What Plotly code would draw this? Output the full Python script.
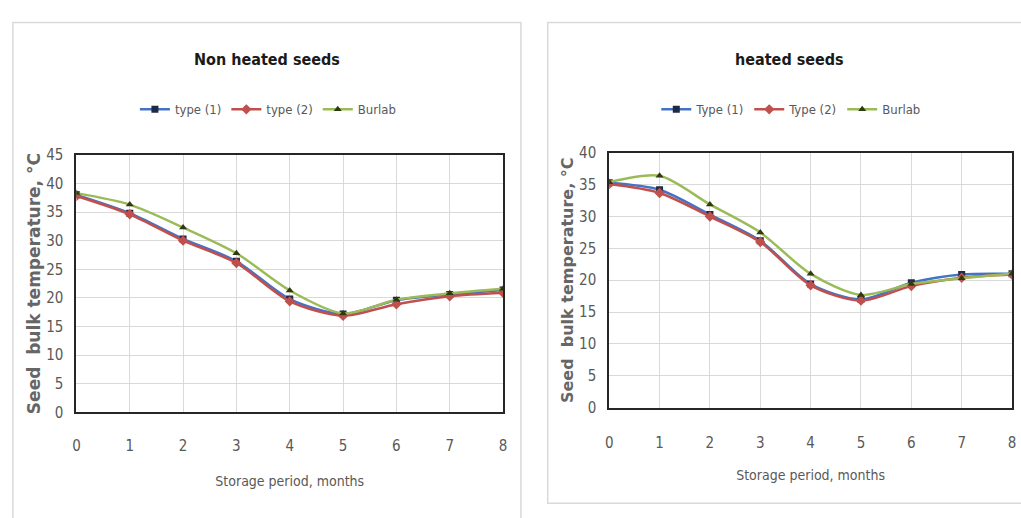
import plotly.graph_objects as go

months = [0, 1, 2, 3, 4, 5, 6, 7, 8]

# Non heated seeds
nh_type1 = [38.0, 34.8, 30.3, 26.4, 19.8, 17.2, 19.6, 20.6, 21.4]
nh_type2 = [37.8, 34.6, 30.0, 26.1, 19.4, 16.9, 18.9, 20.3, 20.9]
nh_burlab = [38.3, 36.3, 32.3, 27.8, 21.3, 17.3, 19.7, 20.8, 21.6]

# Heated seeds
h_type1 = [35.3, 34.2, 30.3, 26.2, 19.4, 17.0, 19.6, 20.9, 21.0]
h_type2 = [35.1, 33.7, 30.0, 26.0, 19.2, 16.8, 19.1, 20.4, 20.9]
h_burlab = [35.4, 36.4, 31.9, 27.5, 21.0, 17.7, 19.4, 20.3, 21.0]

left_names = ["type (1)", "type (2)", "Burlab"]
right_names = ["Type (1)", "Type (2)", "Burlab"]

W, H = 1021, 518
def px(x):
    return x / W
def py(y):
    return 1 - y / H

NARROW = "DejaVu Sans Condensed, Liberation Sans Narrow, Liberation Sans, sans-serif"
GRAY = "#595959"

styles = [
    dict(line=dict(color="#4472C4", width=2.5, shape="spline", smoothing=0.8),
         marker=dict(symbol="square", size=7, color="#1F2A44")),
    dict(line=dict(color="#C0504D", width=2.5, shape="spline", smoothing=0.8),
         marker=dict(symbol="diamond", size=8, color="#C0504D")),
    dict(line=dict(color="#9BBB59", width=2.5, shape="spline", smoothing=0.8),
         marker=dict(symbol="triangle-up", size=7, color="#2E3A10")),
]

fig = go.Figure()
for series, name, st in zip([nh_type1, nh_type2, nh_burlab], left_names, styles):
    fig.add_trace(go.Scatter(x=months, y=series, name=name, mode="lines+markers",
                             xaxis="x", yaxis="y", legend="legend", **st))
for series, name, st in zip([h_type1, h_type2, h_burlab], right_names, styles):
    fig.add_trace(go.Scatter(x=months, y=series, name=name, mode="lines+markers",
                             xaxis="x2", yaxis="y2", legend="legend2", **st))

axis_common = dict(
    showgrid=True, gridcolor="#D9D9D9", gridwidth=1,
    showline=True, linecolor="#262626", linewidth=2, mirror=True,
    ticks="", zeroline=False,
    tickfont=dict(family=NARROW, size=15, color=GRAY),
)

xtitle_font = dict(family=NARROW, size=14, color=GRAY)

fig.update_layout(
    width=W, height=H,
    margin=dict(l=0, r=0, t=0, b=0),
    paper_bgcolor="white", plot_bgcolor="white",
    showlegend=True,
    xaxis=dict(domain=[px(73), px(503)], range=[0, 8], dtick=1, anchor="y",
               ticklabelstandoff=19,
               title=dict(text="Storage period, months", font=xtitle_font, standoff=22),
               **axis_common),
    yaxis=dict(domain=[py(418), py(151)], range=[0, 45], dtick=5, anchor="x",
               ticklabelstandoff=8,
               title=dict(text="Seed  bulk temperature, °C",
                          font=dict(family="DejaVu Sans", size=17, color="#666666", weight="bold"),
                          standoff=1),
               **axis_common),
    xaxis2=dict(domain=[px(610), px(1016)], range=[0, 8], dtick=1, anchor="y2",
                ticklabelstandoff=20,
                title=dict(text="Storage period, months", font=xtitle_font, standoff=20),
                **axis_common),
    yaxis2=dict(domain=[py(413), py(149)], range=[0, 40], dtick=5, anchor="x2",
                ticklabelstandoff=8,
                title=dict(text="Seed  bulk temperature, °C",
                           font=dict(family="DejaVu Sans", size=16, color="#666666", weight="bold"),
                           standoff=1),
                **axis_common),
    legend=dict(orientation="h", x=px(266), xanchor="center", y=py(104), yanchor="middle",
                itemwidth=30,
                font=dict(family=NARROW, size=13, color=GRAY), bgcolor="rgba(0,0,0,0)"),
    legend2=dict(orientation="h", x=px(793), xanchor="center", y=py(104), yanchor="middle",
                 itemwidth=30,
                 font=dict(family=NARROW, size=13, color=GRAY), bgcolor="rgba(0,0,0,0)"),
    annotations=[
        dict(text="Non heated seeds", x=px(265), y=py(52), xref="paper", yref="paper",
             xanchor="center", yanchor="middle",
             showarrow=False, font=dict(family=NARROW, size=16, color="#1a1a1a", weight="bold")),
        dict(text="heated seeds", x=px(792), y=py(52), xref="paper", yref="paper",
             xanchor="center", yanchor="middle",
             showarrow=False, font=dict(family=NARROW, size=16, color="#1a1a1a", weight="bold")),
    ],
    shapes=[
        dict(type="rect", xref="paper", yref="paper", x0=px(9), x1=px(521), y0=py(530), y1=py(14),
             line=dict(color="#D9D9D9", width=1.5), layer="below"),
        dict(type="rect", xref="paper", yref="paper", x0=px(548), x1=px(1040), y0=py(512), y1=py(14),
             line=dict(color="#D9D9D9", width=1.5), layer="below"),
    ],
)

fig.write_html("out.html")
